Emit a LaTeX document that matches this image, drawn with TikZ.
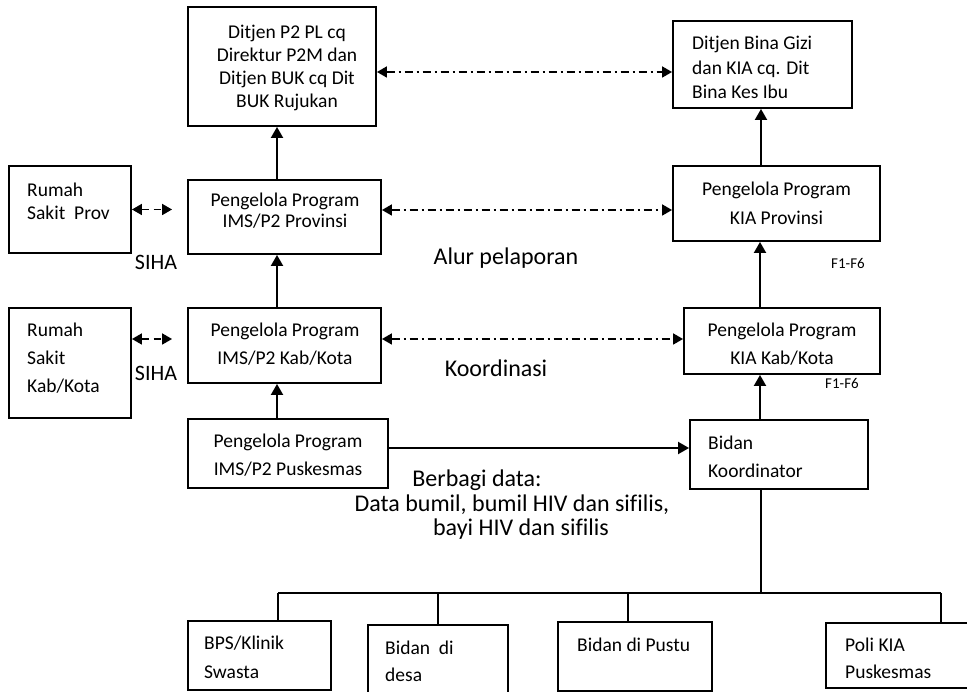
\documentclass[tikz,border=0pt]{standalone}
\usepackage{fontspec}
\setmainfont[Ligatures={NoCommon}]{Carlito}
\usetikzlibrary{arrows.meta}
\begin{document}
\begin{tikzpicture}[x=1pt,y=-1pt,
  box/.style={draw=black, line width=1.9pt, rectangle, inner sep=0pt},
  bt/.style={inner sep=0pt, align=left, text=black, font=\fontsize{19.5}{#1}\selectfont},
  cbt/.style={inner sep=0pt, align=center, text=black, font=\fontsize{19.5}{#1}\selectfont},
  lab/.style={inner sep=0pt, text=black, font=\fontsize{24}{29}\selectfont},
  conn/.style={line width=2pt, -{Triangle[length=11pt,width=12pt]}},
  dd/.style={line width=1.8pt, dash pattern=on 8pt off 4pt on 2pt off 4pt,
     {Triangle[length=10pt,width=11pt]}-{Triangle[length=10pt,width=11pt]}},
  sd/.style={line width=1.8pt, dash pattern=on 7pt off 5pt,
     {Triangle[length=10pt,width=11pt]}-{Triangle[length=10pt,width=11pt]}},
  plain/.style={line width=1.9pt}
]
\useasboundingbox (0,0) rectangle (967,692);

% boxes
\node[box, minimum width=188pt, minimum height=119pt] (ditjen) at (282,66.5) {};
\node[box, minimum width=179pt, minimum height=87pt] (gizi) at (762.5,64.5) {};
\node[box, minimum width=122pt, minimum height=87pt] (rsprov) at (70,209.5) {};
\node[box, minimum width=193pt, minimum height=74pt] (imsprov) at (284.5,217) {};
\node[box, minimum width=207pt, minimum height=75pt] (kiaprov) at (776.5,203.5) {};
\node[box, minimum width=122pt, minimum height=110pt] (rskab) at (70,363) {};
\node[box, minimum width=193pt, minimum height=75pt] (imskab) at (284.5,345.5) {};
\node[box, minimum width=196pt, minimum height=66pt] (kiakab) at (782,341) {};
\node[box, minimum width=200pt, minimum height=69pt] (pusk) at (288,453.5) {};
\node[box, minimum width=178pt, minimum height=69pt] (bidan) at (779,454.5) {};
\node[box, minimum width=143pt, minimum height=69pt] (bps) at (259.5,655.5) {};
\node[box, minimum width=140pt, minimum height=80pt] (desa) at (438,665) {};
\node[box, minimum width=154pt, minimum height=69pt] (pustu) at (635,656.5) {};
\node[box, minimum width=154pt, minimum height=65pt] (poli) at (903,655.5) {};

% texts in boxes
\node[cbt=23] (ditjenT) at (287,67.5) {Ditjen P2 PL cq\\Direktur P2M dan\\Ditjen BUK cq Dit\\BUK Rujukan};
\node[bt=24.5, anchor=west] (giziT) at (692,67.5) {Ditjen Bina Gizi\\dan KIA cq. Dit\\Bina Kes Ibu};
\node[bt=23, anchor=west] (rsprovT) at (27,201.5) {Rumah\\Sakit~~Prov};
\node[cbt=21] (imsprovT) at (285,210.5) {Pengelola Program\\IMS/P2 Provinsi};
\node[cbt=29] (kiaprovT) at (776.5,203.5) {Pengelola Program\\KIA Provinsi};
\node[bt=28, anchor=west] (rskabT) at (27,358) {Rumah\\Sakit\\Kab/Kota};
\node[cbt=28] (imskabT) at (285,344) {Pengelola Program\\IMS/P2 Kab/Kota};
\node[cbt=28] (kiakabT) at (782,344) {Pengelola Program\\KIA Kab/Kota};
\node[cbt=28] (puskT) at (288,455) {Pengelola Program\\IMS/P2 Puskesmas};
\node[bt=28, anchor=west] (bidanT) at (708,457) {Bidan\\Koordinator};
\node[bt=29, anchor=west] (bpsT) at (204,657.5) {BPS/Klinik\\Swasta};
\node[bt=27, anchor=west] (desaT) at (385,661) {Bidan~~di\\desa};
\node[bt=27, anchor=west] (pustuT) at (577,645) {Bidan di Pustu};
\node[bt=27, anchor=west] (poliT) at (845,658.5) {Poli KIA\\Puskesmas};

% free labels
\node[inner sep=0pt, font=\fontsize{22}{26}\selectfont] (siha1) at (156,262) {SIHA};
\node[inner sep=0pt, font=\fontsize{22}{26}\selectfont] (siha2) at (156,373) {SIHA};
\node[lab] (alur) at (506,258) {Alur pelaporan};
\node[lab] (koord) at (496,368) {Koordinasi};
\node[lab] (berb1) at (477,480) {Berbagi data:};
\node[lab] (berb2) at (512,505) {Data bumil, bumil HIV dan sifilis,};
\node[lab] (berb3) at (521,529) {bayi HIV dan sifilis};
\node[inner sep=0pt, font=\fontsize{15}{18}\selectfont] (f1) at (848,263) {F1-F6};
\node[inner sep=0pt, font=\fontsize{15}{18}\selectfont] (f2) at (842,383) {F1-F6};

% solid arrows
\draw[conn] ([xshift=-7.5pt]imsprov.north) -- ([xshift=-7.5pt]imsprov.north |- ditjen.south);
\draw[conn] ([xshift=-7.5pt]imskab.north) -- ([xshift=-7.5pt]imskab.north |- imsprov.south);
\draw[conn] ([xshift=-11pt]pusk.north) -- ([xshift=-11pt]pusk.north |- imskab.south);
\draw[conn] ([xshift=-15.5pt]kiaprov.north) -- ([xshift=-15.5pt]kiaprov.north |- gizi.south);
\draw[conn] ([xshift=-22pt]kiakab.north) -- ([xshift=-22pt]kiakab.north |- kiaprov.south);
\draw[conn] ([xshift=-19pt]bidan.north) -- ([xshift=-19pt]bidan.north |- kiakab.south);
\draw[conn] ([yshift=5.5pt]pusk.east) -- ([yshift=5.5pt]pusk.east -| bidan.west);

% dash-dot coordination arrows
\draw[dd] ([yshift=-5.5pt]ditjen.east) -- ([yshift=-5.5pt]ditjen.east -| gizi.west);
\draw[dd] ([yshift=7pt]imsprov.east) -- ([yshift=7pt]imsprov.east -| kiaprov.west);
\draw[dd] ([yshift=6.5pt]imskab.east) -- ([yshift=6.5pt]imskab.east -| kiakab.west);

% SIHA short dashed arrows
\draw[sd] (rsprov.east) -- ([xshift=-15pt]rsprov.east -| imsprov.west);
\draw[sd] ([yshift=24pt]rskab.east) -- ([xshift=-15pt,yshift=24pt]rskab.east -| imskab.west);

% tree
\coordinate (bl) at (278,593);
\coordinate (br) at (941,593);
\draw[plain] ([xshift=-18pt]bidan.south) -- ([xshift=-18pt]bidan.south |- bl);
\draw[plain] (bl) -- (br);
\draw[plain] (bl) -- (bl |- bps.north);
\draw[plain] (desa.north |- bl) -- (desa.north);
\draw[plain] ([xshift=-7pt]pustu.north |- bl) -- ([xshift=-7pt]pustu.north);
\draw[plain] (br) -- (br |- poli.north);
\end{tikzpicture}
\end{document}
